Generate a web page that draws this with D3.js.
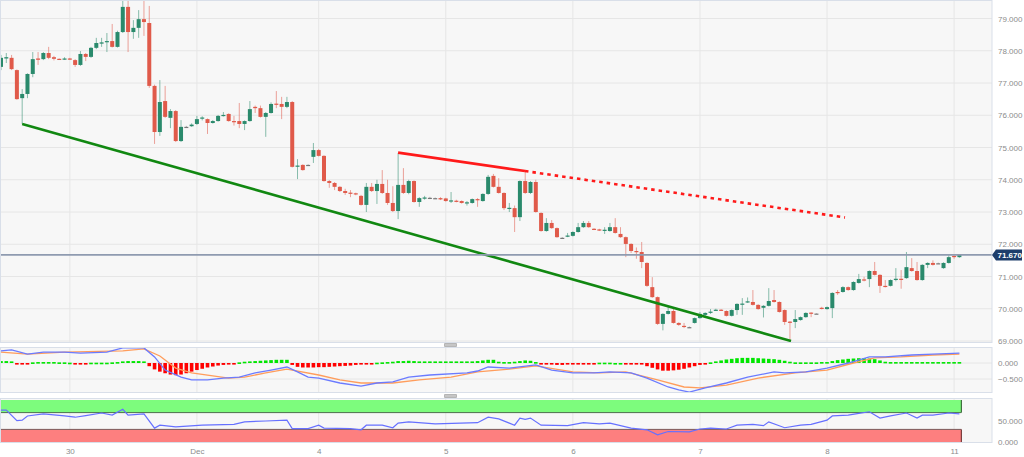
<!DOCTYPE html>
<html><head><meta charset="utf-8">
<script src="https://cdn.jsdelivr.net/npm/d3@7"></script>
<style>body{margin:0;background:#fff;} svg{display:block;font-family:"Liberation Sans",Arial,sans-serif;}</style>
</head><body><svg id="c" width="1024" height="457"></svg>
<script>
// ---------- DATA (hourly candles, index = bar number) ----------
const opens = [77.50,77.76,77.78,77.40,76.53,76.66,77.28,77.76,77.74,77.93,
77.80,77.75,77.74,77.76,77.71,77.56,77.90,77.81,78.09,78.22,
78.27,78.30,78.12,78.58,79.36,78.58,78.71,78.98,78.86,76.91,
75.48,76.44,75.92,76.13,75.20,75.64,75.66,75.73,75.90,75.88,
75.76,75.82,75.98,76.04,75.82,75.82,75.73,75.82,76.26,76.22,
75.95,76.07,76.36,76.35,76.26,76.41,74.41,74.46,74.46,74.71,
74.92,74.74,73.96,73.90,73.78,73.65,73.60,73.58,73.50,73.22,
73.78,73.65,73.87,73.59,73.28,73.03,73.84,73.59,73.96,73.31,
73.42,73.44,73.43,73.43,73.42,73.33,73.35,73.34,73.27,73.28,
73.40,73.34,73.56,74.12,73.78,73.59,73.10,73.12,72.84,73.96,
73.59,73.93,72.97,72.41,72.66,72.50,72.20,72.25,72.26,72.38,
72.53,72.66,72.48,72.46,72.43,72.41,72.53,72.32,72.22,72.01,
71.79,71.76,71.42,70.67,70.36,69.53,69.84,69.93,69.56,69.47,
69.43,69.56,69.71,69.81,69.89,69.95,69.97,69.93,69.78,69.96,
70.13,70.20,70.21,70.12,70.03,70.09,70.27,70.21,69.96,69.60,
69.59,69.65,69.74,69.88,69.85,70.03,69.99,70.02,70.52,70.52,
70.67,70.58,70.80,70.91,70.92,71.17,71.05,70.71,70.71,70.91,
70.93,70.95,71.26,71.17,70.89,71.36,71.42,71.41,71.26,71.42,
71.64,71.60];
const highs = [77.87,77.93,77.87,77.42,76.81,77.30,77.96,77.96,77.96,78.12,
77.84,77.76,77.80,77.78,77.74,77.99,77.93,78.12,78.40,78.40,
78.55,78.83,78.62,79.60,79.60,78.95,79.26,79.60,79.39,76.95,
77.09,76.91,76.19,76.16,75.85,75.67,75.75,75.98,75.97,75.90,
75.85,76.01,76.10,76.06,75.98,76.38,75.84,76.44,76.30,76.30,
76.10,76.40,76.75,76.57,76.57,76.44,74.64,74.48,74.48,75.14,
74.95,74.76,73.99,73.93,73.80,73.72,73.68,73.60,73.53,73.90,
73.90,74.00,74.30,74.00,73.80,74.83,74.36,74.00,73.98,73.46,
73.50,73.47,73.45,73.46,73.44,73.62,73.38,73.36,73.34,73.42,
73.43,73.58,74.15,74.18,74.05,73.61,73.28,73.20,73.98,74.24,
73.96,74.00,72.99,72.81,72.75,72.52,72.22,72.35,72.40,72.66,
72.72,72.72,72.50,72.48,72.53,72.66,72.81,72.53,72.24,72.03,
71.90,72.07,71.44,70.98,70.38,69.86,70.05,70.02,69.58,69.56,
69.45,69.73,69.90,69.89,69.99,70.00,69.99,69.95,69.98,70.17,
70.33,70.35,70.58,70.14,70.11,70.64,70.58,70.23,69.98,69.62,
69.96,69.76,69.89,69.89,69.86,70.06,70.07,70.51,70.58,70.70,
70.69,70.85,71.08,70.99,71.19,71.45,71.07,70.89,70.91,71.26,
71.20,71.76,71.57,71.45,71.38,71.44,71.50,71.43,71.44,71.66,
71.66,71.69];
const lows = [77.40,77.62,77.40,76.48,75.73,76.53,77.18,77.56,77.71,77.74,
77.70,77.72,77.72,77.72,77.50,77.53,77.68,77.78,78.05,78.12,
77.96,78.10,78.10,78.55,77.96,78.37,78.40,78.46,76.85,75.11,
75.36,75.92,75.60,75.17,75.17,75.61,75.64,75.70,75.84,75.42,
75.74,75.80,75.96,75.80,75.68,75.60,75.54,75.80,76.07,75.93,
75.33,76.05,76.22,75.88,76.22,74.38,74.02,74.28,74.44,74.52,
74.72,73.94,73.75,73.68,73.62,73.53,73.46,73.52,73.20,73.00,
73.62,73.25,73.56,73.22,73.00,72.78,73.56,73.55,73.29,73.16,
73.38,73.40,73.41,73.37,73.32,73.28,73.30,73.26,73.20,73.26,
73.16,73.32,73.53,73.76,73.57,73.06,73.00,72.38,72.72,73.56,
73.56,72.98,72.39,72.39,72.48,72.20,72.18,72.22,72.24,72.36,
72.51,72.51,72.44,72.41,72.32,72.39,72.33,72.20,71.60,71.73,
71.55,71.26,70.68,70.34,69.50,69.33,69.82,69.54,69.47,69.40,
69.41,69.54,69.69,69.71,69.84,69.93,69.93,69.76,69.76,69.81,
69.81,70.18,70.10,69.97,69.73,70.07,70.19,69.88,69.50,69.00,
69.40,69.63,69.72,69.74,69.84,69.98,69.97,69.71,70.43,70.50,
70.56,70.56,70.78,70.85,70.67,71.03,70.49,70.66,70.69,70.85,
70.62,70.93,71.15,70.87,70.87,71.26,71.34,71.39,71.24,71.40,
71.55,71.58];
const closes = [77.78,77.80,77.43,76.50,76.66,77.28,77.74,77.72,77.93,77.78,
77.75,77.74,77.76,77.75,77.56,77.90,77.81,78.09,78.24,78.26,
78.30,78.12,78.58,79.36,78.58,78.71,78.98,78.89,76.91,75.48,
76.41,75.95,76.13,75.20,75.64,75.64,75.71,75.88,75.93,75.76,
75.82,75.98,76.01,75.82,75.80,75.73,75.82,76.19,76.22,75.95,
76.07,76.35,76.33,76.26,76.41,74.40,74.44,74.30,74.46,74.92,
74.74,73.96,73.90,73.78,73.65,73.59,73.58,73.55,73.22,73.78,
73.65,73.87,73.59,73.28,73.03,73.84,73.59,73.96,73.31,73.43,
73.45,73.44,73.43,73.39,73.34,73.36,73.33,73.28,73.30,73.40,
73.37,73.56,74.09,73.78,73.59,73.12,73.13,72.84,73.96,73.59,
73.93,73.00,72.41,72.66,72.50,72.22,72.20,72.27,72.38,72.53,
72.66,72.53,72.46,72.43,72.45,72.53,72.35,72.22,72.01,71.79,
71.77,71.45,70.71,70.36,69.53,69.84,69.93,69.56,69.50,69.45,
69.43,69.71,69.84,69.87,69.91,69.97,69.95,69.78,69.96,70.15,
70.16,70.23,70.12,69.99,70.09,70.24,70.21,69.90,69.59,69.58,
69.68,69.74,69.87,69.86,69.85,70.01,70.05,70.49,70.50,70.67,
70.58,70.83,70.92,70.89,71.17,71.05,70.71,70.68,70.89,70.93,
70.91,71.29,71.17,70.89,71.36,71.42,71.36,71.41,71.42,71.60,
71.60,71.67];
const lastPrice = 71.670;

// trend lines (bar index, price)
const supportIdx = [4, 149.2], supportPx = [75.73, 69.00];
const resistIdx = [75, 98.96], resistPx = [74.84, 74.27];
const resistExtIdx = [98.96, 159.4], resistExtPx = [74.27, 72.83];

// MACD histogram, one value per bar
const macdHist = [0.06,0.06,0.05,
-0.03,-0.05,-0.04,
0.02,0.03,0.03,0.03,0.03,0.02,0.02,0.01,
-0.02,-0.02,-0.01,
0.01,0.01,0.01,0.01,0.02,0.03,
0.05,0.06,0.06,0.06,0.05,
-0.10,-0.20,-0.27,-0.32,-0.36,-0.38,-0.36,-0.32,-0.27,-0.22,-0.18,-0.14,-0.11,-0.08,-0.06,-0.04,-0.02,
0.02,0.04,0.05,0.06,0.07,0.08,0.09,0.10,0.10,0.10,
-0.06,-0.12,-0.14,-0.14,-0.14,-0.13,-0.13,-0.12,-0.11,-0.10,-0.09,-0.08,-0.06,-0.05,-0.03,-0.01,
0.01,0.02,0.03,0.04,0.06,0.06,0.07,0.06,0.05,0.05,0.05,0.05,0.05,0.05,0.05,0.05,0.05,0.05,0.05,0.06,0.08,0.10,0.10,
0.04,0.03,0.03,0.04,0.06,0.08,0.07,0.03,
-0.03,-0.05,-0.05,-0.06,-0.06,-0.05,-0.05,-0.04,-0.03,-0.02,-0.01,
0.01,0.01,0.01,0.00,0.00,-0.01,-0.02,-0.03,
-0.05,-0.10,-0.15,-0.20,-0.24,-0.24,-0.23,-0.21,-0.18,-0.14,-0.10,-0.06,-0.03,
0.02,0.05,0.08,0.11,0.13,0.15,0.16,0.16,0.16,0.15,0.14,0.13,0.12,0.10,0.07,0.04,
0.02,0.02,0.02,0.02,0.02,0.03,0.03,
0.06,0.09,0.11,0.13,0.14,0.15,0.15,0.14,0.12,0.08,
0.04,0.03,0.03,0.03,0.03,0.03,0.03,0.03,0.03,0.03,0.03,0.03,0.03,0.03,0.03];
// MACD and signal lines, sampled at bar indices
const macdIdx = [0,2,5,8,12,15,20,23,27,29,31,34,36,39,42,45,48,51,54,56,58,60,64,68,71,74,77,81,88,90,92,96,101,104,108,112,115,119,122,126,128,130,133,137,141,146,148,152,156,160,164,167,172,176,181];
const macdVal = [0.38,0.41,0.28,0.34,0.34,0.31,0.34,0.47,0.47,0.19,-0.22,-0.44,-0.53,-0.53,-0.47,-0.44,-0.31,-0.22,-0.125,-0.28,-0.44,-0.47,-0.625,-0.72,-0.625,-0.59,-0.44,-0.375,-0.31,-0.25,-0.125,-0.16,-0.06,-0.22,-0.31,-0.31,-0.28,-0.31,-0.47,-0.75,-0.84,-0.91,-0.78,-0.625,-0.44,-0.28,-0.31,-0.28,-0.16,0,0.19,0.19,0.25,0.28,0.31];
const sigIdx = [0,5,12,23,27,30,33,36,43,46,50,54,60,64,68,74,79,85,90,96,101,108,113,118,124,129,132,137,143,150,156,161,165,170,176,181];
const sigVal = [0.34,0.28,0.34,0.38,0.44,0.22,-0.16,-0.31,-0.47,-0.44,-0.31,-0.19,-0.375,-0.53,-0.625,-0.625,-0.53,-0.44,-0.28,-0.19,-0.09,-0.28,-0.31,-0.28,-0.53,-0.75,-0.78,-0.69,-0.47,-0.31,-0.22,0,0.16,0.19,0.25,0.28];
// RSI sampled at bar indices
const rsiIdx = [0,1,3,4,5,8,12,14,16,19,21,23,24,27,29,30,33,38,44,46,50,54,55,58,60,61,66,68,69,72,74,75,77,82,90,92,94,96,97,98,99,100,102,107,110,113,115,119,122,124,126,130,132,134,137,139,142,144,145,148,151,153,156,157,160,162,164,166,168,171,173,174,176,179,181];
const rsiVal = [76,76,51,52,62,67,62,59,63,69,64,78,64,67,33,40,36,40,42,48,50,52,32,32,40,33,32,29,40,40,34,45,48,43,46,59,55,45,40,57,54,57,40,39,46,43,45,33,29,17,25,24,31,33,31,40,42,39,48,34,40,42,52,62,64,68,72,57,62,69,57,64,64,69,67];

// ticks
const dayTicks = [13,37,60,84,108,132,156,180];
const dayLabels = ["30","Dec","4","5","6","7","8","11"];
const priceTicks = [69,70,71,72,73,74,75,76,77,78,79];
const macdTicks = [0,-0.5];
const rsiTicks = [0,50];
const rsiBands = [[70,100],[0,30]];

// ---------- LAYOUT ----------
const W = 1024, plotR = 992;
const P1 = {t:0, b:343}, P2 = {t:347, b:393}, P3 = {t:398, b:443};
const svg = d3.select("#c");
const N = closes.length;
const x = d3.scaleLinear().domain([0, 181]).range([1, 1 + 181*5.295]);
const y = d3.scaleLinear().domain([69, 79]).range([341, 18.5]);
const ym = d3.scaleLinear().domain([0, -0.5]).range([363, 379]);
const yr = d3.scaleLinear().domain([0, 100]).range([442, 400]);

const defs = svg.append("defs");
[P1,P2,P3].forEach((p,k)=>{
  defs.append("clipPath").attr("id","cp"+k).append("rect")
    .attr("x",0).attr("y",p.t).attr("width",plotR).attr("height",p.b-p.t);
});

// panels
[P1,P2,P3].forEach((p)=>{
  svg.append("rect").attr("x",0).attr("y",p.t).attr("width",plotR).attr("height",p.b-p.t)
    .attr("fill","#f7f7f7");
});

// vertical grid
[P1,P2,P3].forEach((p,k)=>{
  const g = svg.append("g").attr("clip-path","url(#cp"+k+")");
  g.selectAll("line").data(dayTicks).join("line")
    .attr("x1",d=>x(d)).attr("x2",d=>x(d)).attr("y1",p.t).attr("y2",p.b)
    .attr("stroke","#e6e6e6").attr("stroke-width",1);
});
// horizontal grid
svg.append("g").attr("clip-path","url(#cp0)").selectAll("line").data(priceTicks).join("line")
  .attr("x1",0).attr("x2",plotR).attr("y1",d=>y(d)).attr("y2",d=>y(d))
  .attr("stroke","#e6e6e6");
svg.append("g").selectAll("line").data(macdTicks).join("line")
  .attr("x1",0).attr("x2",plotR).attr("y1",d=>ym(d)).attr("y2",d=>ym(d))
  .attr("stroke","#e6e6e6");

// ---------- candles ----------
const UP="#2a8a6c", DN="#e05a4a", DJ="#777";
const cg = svg.append("g").attr("clip-path","url(#cp0)");
const idx = d3.range(N);
const col = i => closes[i]>opens[i]?UP:(closes[i]<opens[i]?DN:DJ);
cg.selectAll("line.w").data(idx).join("line").attr("class","w")
  .attr("x1",i=>x(i)).attr("x2",i=>x(i)).attr("y1",i=>y(highs[i])).attr("y2",i=>y(lows[i]))
  .attr("stroke",col).attr("stroke-opacity",0.55).attr("stroke-width",1);
cg.selectAll("rect.b").data(idx).join("rect").attr("class","b")
  .attr("x",i=>x(i)-2).attr("width",4)
  .attr("y",i=>y(Math.max(opens[i],closes[i])))
  .attr("height",i=>Math.max(1.2, Math.abs(y(opens[i])-y(closes[i]))))
  .attr("fill",col);

// trend lines
const tl = (xs,ps)=>xs.map((v,k)=>[x(v),y(ps[k])]);
cg.append("path").attr("d",d3.line()(tl(supportIdx,supportPx)))
  .attr("stroke","#118811").attr("stroke-width",2.6).attr("fill","none");
cg.append("path").attr("d",d3.line()(tl(resistIdx,resistPx)))
  .attr("stroke","#ff1a1a").attr("stroke-width",2.6).attr("fill","none");
cg.append("path").attr("d",d3.line()(tl(resistExtIdx,resistExtPx)))
  .attr("stroke","#ff1a1a").attr("stroke-width",2.6).attr("stroke-dasharray","3.5,4").attr("fill","none");

// last price line
svg.append("line").attr("x1",0).attr("x2",plotR).attr("y1",y(lastPrice)).attr("y2",y(lastPrice))
  .attr("stroke","#8f9bb0").attr("stroke-width",1.6);

// ---------- MACD ----------
const mg = svg.append("g").attr("clip-path","url(#cp1)");
mg.selectAll("rect").data(idx).join("rect")
  .attr("x",i=>x(i)-1.8).attr("width",3.6)
  .attr("y",i=>macdHist[i]>=0? ym(macdHist[i]) : ym(0))
  .attr("height",i=>Math.max(1.6, Math.abs(ym(macdHist[i])-ym(0))))
  .attr("fill",i=>macdHist[i]>=0?"#00e600":"#ff0000");
mg.append("path").attr("d",d3.line()(sigIdx.map((v,k)=>[x(v),ym(sigVal[k])])))
  .attr("stroke","#ff9d5c").attr("stroke-width",1.3).attr("fill","none");
mg.append("path").attr("d",d3.line()(macdIdx.map((v,k)=>[x(v),ym(macdVal[k])])))
  .attr("stroke","#6b7bff").attr("stroke-width",1.3).attr("fill","none");

// ---------- RSI ----------
const rg = svg.append("g").attr("clip-path","url(#cp2)");
const bandR = x(181)+2;
rg.append("rect").attr("x",0).attr("width",bandR).attr("y",yr(rsiBands[0][1])).attr("height",yr(rsiBands[0][0])-yr(rsiBands[0][1]))
  .attr("fill","#7dfc7d");
rg.append("rect").attr("x",0).attr("width",bandR).attr("y",yr(rsiBands[1][1])).attr("height",yr(rsiBands[1][0])-yr(rsiBands[1][1]))
  .attr("fill","#fd7f7f");
rg.append("line").attr("x1",0).attr("x2",bandR).attr("y1",yr(70)).attr("y2",yr(70)).attr("stroke","#4f6f4f").attr("stroke-width",1);
rg.append("line").attr("x1",0).attr("x2",bandR).attr("y1",yr(30)).attr("y2",yr(30)).attr("stroke","#7a5a5a").attr("stroke-width",1);
rg.append("line").attr("x1",bandR).attr("x2",bandR).attr("y1",yr(100)).attr("y2",yr(70)).attr("stroke","#3f6f3f").attr("stroke-width",1.2);
rg.append("line").attr("x1",bandR).attr("x2",bandR).attr("y1",yr(30)).attr("y2",yr(0)).attr("stroke","#7a3f3f").attr("stroke-width",1.2);
rg.append("path").attr("d",d3.line()(rsiIdx.map((v,k)=>[x(v),yr(rsiVal[k])])))
  .attr("stroke","#6670ff").attr("stroke-width",1.2).attr("fill","none");

// panel borders
[P1,P2,P3].forEach(p=>{
  svg.append("rect").attr("x",0.5).attr("y",p.t+0.5).attr("width",plotR-0.5).attr("height",p.b-p.t-1)
    .attr("fill","none").attr("stroke","#d9dfe9");
});
// resize handles
[345,396].forEach(hy=>{
  svg.append("rect").attr("x",444).attr("y",hy-2).attr("width",13).attr("height",4).attr("rx",1).attr("fill","#b5b5b5");
  svg.append("line").attr("x1",445).attr("x2",456).attr("y1",hy).attr("y2",hy).attr("stroke","#e0e0e0").attr("stroke-width",0.8);
});

// ---------- axes ----------
const fmt = d3.format(".3f");
function styleAxis(g){
  g.select(".domain").remove();
  g.selectAll("line").remove();
  g.selectAll("text").attr("fill","#8c8c8c").attr("font-size","8px").attr("font-family","'Liberation Sans',Arial,sans-serif");
}
svg.append("g").attr("transform",`translate(${plotR+3},0)`)
  .call(d3.axisRight(y).tickValues(priceTicks).tickFormat(fmt).tickSize(0).tickPadding(3)).call(styleAxis);
svg.append("g").attr("transform",`translate(${plotR+3},0)`)
  .call(d3.axisRight(ym).tickValues(macdTicks).tickFormat(fmt).tickSize(0).tickPadding(3)).call(styleAxis);
svg.append("g").attr("transform",`translate(${plotR+3},0)`)
  .call(d3.axisRight(yr).tickValues(rsiTicks).tickFormat(fmt).tickSize(0).tickPadding(3)).call(styleAxis);
svg.append("g").attr("transform",`translate(0,${P3.b+2})`)
  .call(d3.axisBottom(x).tickValues(dayTicks).tickFormat((d,k)=>dayLabels[k]).tickSize(0).tickPadding(3)).call(styleAxis);

// last price label
const ly = y(lastPrice);
svg.append("path").attr("d",`M${plotR},${ly} L${plotR+4},${ly-5.5} L${plotR+30},${ly-5.5} L${plotR+30},${ly+5.5} L${plotR+4},${ly+5.5} Z`)
  .attr("fill","#1d3d6b");
svg.append("text").attr("x",plotR+5.5).attr("y",ly+3).text(fmt(lastPrice))
  .attr("fill","#fff").attr("font-size","8px").attr("font-weight","bold").attr("font-family","'Liberation Sans',Arial,sans-serif");
</script>
</body></html>
